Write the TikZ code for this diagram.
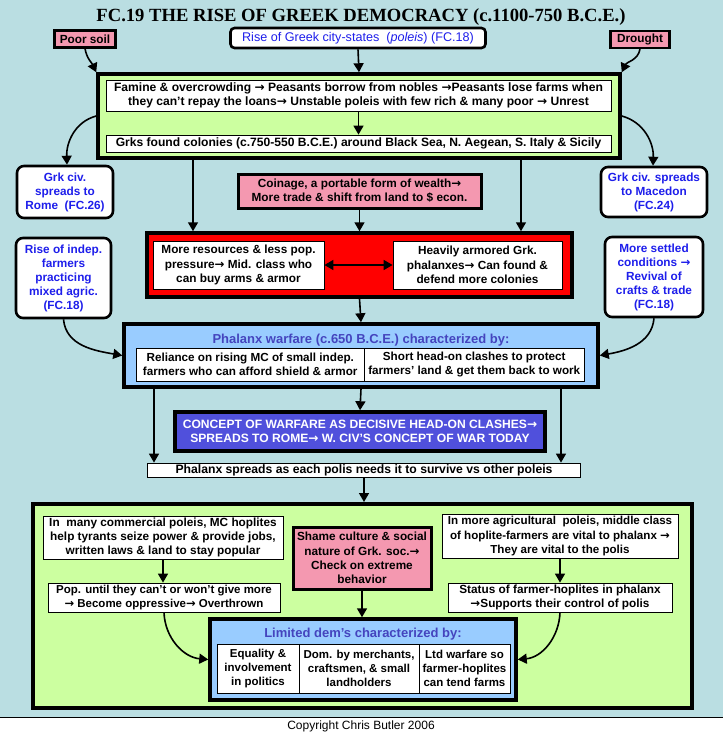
\documentclass[tikz,border=0pt]{standalone}
\usepackage{fontspec}
\setmainfont{Liberation Sans}
\newfontfamily\titlefont{Liberation Serif}
\newfontfamily\arrfont{DejaVu Sans}
\usetikzlibrary{arrows.meta}
\definecolor{bg}{RGB}{186,222,226}
\definecolor{lgreen}{RGB}{204,255,160}
\definecolor{mypink}{RGB}{244,152,176}
\definecolor{lblue}{RGB}{153,204,255}
\definecolor{cblue}{RGB}{80,80,220}
\definecolor{tblue}{RGB}{30,30,235}
\definecolor{hblue}{RGB}{68,68,190}
\newcommand\myarr{{\arrfont\bfseries\symbol{"2192}}}
\newcommand\fsz[1]{\fontsize{#1}{14.3}\selectfont\bfseries}
\tikzset{
 base/.style={font=\fsz{11.8}, align=center, inner sep=0pt, rectangle},
 wbox/.style={base, draw, fill=white, line width=0.8pt},
 pbox/.style={base, draw, fill=mypink, line width=2.2pt},
 rbox/.style={base, font=\fontsize{11.8}{14}\selectfont\bfseries, draw, fill=white, line width=2.6pt, rounded corners=7pt, text=tblue},
 bigbox/.style={draw, line width=3.5pt, inner sep=0pt, rectangle},
 arr/.style={line width=1.6pt, -{Triangle[length=9pt,width=10pt]}},
 darr/.style={line width=1.6pt, {Triangle[length=9pt,width=10pt]}-{Triangle[length=9pt,width=10pt]}},
 ttl/.style={font=\fontsize{13}{15}\selectfont\bfseries, text=hblue, inner sep=0pt},
}
\begin{document}
\begin{tikzpicture}[x=1pt,y=-1pt]
\useasboundingbox (0,0) rectangle (723,734);
\fill[bg] (0,0) rectangle (723,717);
\fill[white] (0,717) rectangle (723,734);
\draw[line width=1pt] (0,717) -- (723,717);

\node[font=\titlefont\fontsize{18.6}{20}\selectfont\bfseries, inner sep=0pt] (title) at (361,17) {FC.19 THE RISE OF GREEK DEMOCRACY (c.1100-750 B.C.E.)};

% top row
\node[pbox, minimum width=61pt, minimum height=17pt] (poor) at (85,39) {Poor soil};
\node[rbox, font=\fontsize{12.6}{14}\selectfont, minimum width=255pt, minimum height=20pt, rounded corners=4pt] (rise) at (358,38) {Rise of Greek city-states \ (\textit{poleis}) (FC.18)};
\node[pbox, minimum width=59pt, minimum height=17pt] (drought) at (640,39.5) {Drought};

% green box 1
\node[bigbox, fill=lgreen, minimum width=522pt, minimum height=84pt] (green) at (359,116) {};
\node[wbox, font=\fsz{12.1}, minimum width=505pt, minimum height=31pt] (famine) at (358.5,95.5) {Famine \& overcrowding \myarr{} Peasants borrow from nobles \myarr Peasants lose farms when\\ they can't repay the loans\myarr{} Unstable poleis with few rich \& many poor \myarr{} Unrest};
\node[wbox, font=\fsz{12.1}, minimum width=505pt, minimum height=17pt] (colonies) at (358.5,143.5) {Grks found colonies (c.750-550 B.C.E.) around Black Sea, N. Aegean, S. Italy \& Sicily};

\draw[arr] (poor.south) to[out=-80,in=115] (green.north west);
\draw[arr] (rise.south) -- (green.north);
\draw[arr] (drought.south) to[out=-100,in=65] (green.north east);
\draw[arr] (famine.south) -- (colonies.north);

% side boxes
\node[rbox, minimum width=96pt, minimum height=52pt] (rome) at (65,192) {Grk civ.\\ spreads to\\ Rome \ (FC.26)};
\node[rbox, minimum width=106pt, minimum height=50pt] (macedon) at (654,192) {Grk civ. spreads\\ to Macedon\\ (FC.24)};
\node[rbox, minimum width=95pt, minimum height=80pt] (indep) at (63.5,278) {Rise of indep.\\ farmers\\ practicing\\ mixed agric.\\ (FC.18)};
\node[rbox, minimum width=98pt, minimum height=80pt] (settled) at (654,277) {More settled\\ conditions \myarr\\ Revival of\\ crafts \& trade\\ (FC.18)};

\draw[arr] (green.west) to[out=195,in=92] ([xshift=2pt]rome.north);
\draw[arr] (green.east) to[out=-15,in=88] ([xshift=-1pt]macedon.north);

% coinage and red box
\node[pbox, line width=3pt, minimum width=243pt, minimum height=34pt] (coin) at (359.5,191) {Coinage, a portable form of wealth\myarr\\ More trade \& shift from land to \$ econ.};
\node[bigbox, fill=red, minimum width=425pt, minimum height=64pt] (red) at (359.5,265) {};
\node[wbox, minimum width=171pt, minimum height=48pt] (lwhite) at (238.5,265) {More resources \& less pop.\\ pressure\myarr{} Mid. class who\\ can buy arms \& armor};
\node[wbox, minimum width=169pt, minimum height=48pt] (rwhite) at (477.5,265) {Heavily armored Grk.\\ phalanxes\myarr{} Can found \&\\ defend more colonies};

\coordinate (xa) at (193,0);
\coordinate (xb) at (521,0);
\draw[arr] (green.south -| xa) -- (red.north -| xa);
\draw[arr] (green.south -| xb) -- (red.north -| xb);
\draw[arr] (coin.south) -- (red.north);
\draw[darr] (lwhite.east) -- (rwhite.west);

% phalanx box
\node[bigbox, fill=lblue, minimum width=474pt, minimum height=63pt] (phal) at (361,355.5) {};
\node[ttl] (phaltitle) at (361,340) {Phalanx warfare (c.650 B.C.E.) characterized by:};
\node[wbox, font=\fsz{11.7}, minimum width=227.5pt, minimum height=33pt] (pcell1) at (250.25,364.5) {Reliance on rising MC of small indep.\\ farmers who can afford shield \& armor};
\node[wbox, font=\fsz{11.7}, minimum width=220.5pt, minimum height=33pt] (pcell2) at (474.25,364.5) {Short head-on clashes to protect\\ farmers' land \& get them back to work};

\draw[arr] (red.south) -- (phal.north);
\draw[arr] (indep.south) to[out=-85,in=170] (phal.west);
\draw[arr] (settled.south) to[out=-95,in=10] (phal.east);

% concept
\node[bigbox, fill=cblue, text=white, font=\fontsize{12.1}{14}\selectfont\bfseries, align=center, minimum width=370pt, minimum height=39pt] (concept) at (360,431.5) {CONCEPT OF WARFARE AS DECISIVE HEAD-ON CLASHES\myarr\\ SPREADS TO ROME\myarr{} W. CIV'S CONCEPT OF WAR TODAY};
\draw[arr] (phal.south) -- (concept.north);

\node[wbox, font=\fsz{12.2}, minimum width=432.5pt, minimum height=14pt] (spread) at (364,470) {Phalanx spreads as each polis needs it to survive vs other poleis};
\coordinate (xc) at (154,0);
\coordinate (xd) at (561,0);
\draw[arr] (phal.south -| xc) -- (spread.north -| xc);
\draw[arr] (phal.south -| xd) -- (spread.north -| xd);

% green box 2
\node[bigbox, line width=4pt, fill=lgreen, minimum width=659pt, minimum height=204pt] (green2) at (362.5,606) {};
\draw[arr] (spread.south) -- (green2.north -| spread.south);

\node[wbox, minimum width=240pt, minimum height=43pt] (comm) at (163,537.5) {In \ many commercial poleis, MC hoplites\\ help tyrants seize power \& provide jobs,\\ written laws \& land to stay popular};
\node[wbox, font=\fsz{11.5}, minimum width=232pt, minimum height=29pt] (pop) at (164,597.5) {Pop. until they can't or won't give more\\ \myarr{} Become oppressive\myarr{} Overthrown};
\node[pbox, line width=3pt, minimum width=138pt, minimum height=62pt] (shame) at (362,558) {Shame culture \& social\\ nature of Grk. soc.\myarr\\ Check on extreme\\ behavior};
\node[wbox, font=\fsz{11.6}, minimum width=236pt, minimum height=44pt] (agri) at (560,536) {In more agricultural \ poleis, middle class\\ of hoplite-farmers are vital to phalanx \myarr\\ They are vital to the polis};
\node[wbox, minimum width=224pt, minimum height=29pt] (status) at (560,597.5) {Status of farmer-hoplites in phalanx\\ \myarr Supports their control of polis};

% limited dem
\node[bigbox, fill=lblue, minimum width=306pt, minimum height=81pt] (limited) at (363,659.5) {};
\node[ttl] (limtitle) at (363,634) {Limited dem's characterized by:};
\node[wbox, font=\fsz{11.5}, minimum width=82pt, minimum height=49pt] (lcell1) at (258,668.5) {Equality \&\\ involvement\\ in politics};
\node[wbox, font=\fsz{11.5}, minimum width=120pt, minimum height=49pt] (lcell2) at (359,668.5) {Dom. by merchants,\\ craftsmen, \& small\\ landholders};
\node[wbox, font=\fsz{11.5}, minimum width=91pt, minimum height=49pt] (lcell3) at (464.5,668.5) {Ltd warfare so\\ farmer-hoplites\\ can tend farms};

\draw[arr] (comm.south) -- (pop.north -| comm.south);
\draw[arr] (agri.south) -- (status.north);
\draw[arr] (shame.south) -- (limited.north -| shame.south);
\draw[arr] (pop.south) to[out=-88,in=175] (limited.west);
\draw[arr] (status.south) to[out=-92,in=5] (limited.east);

\node[font=\fontsize{12}{13}\selectfont, inner sep=0pt] (copy) at (361,726) {Copyright Chris Butler 2006};
\end{tikzpicture}
\end{document}
